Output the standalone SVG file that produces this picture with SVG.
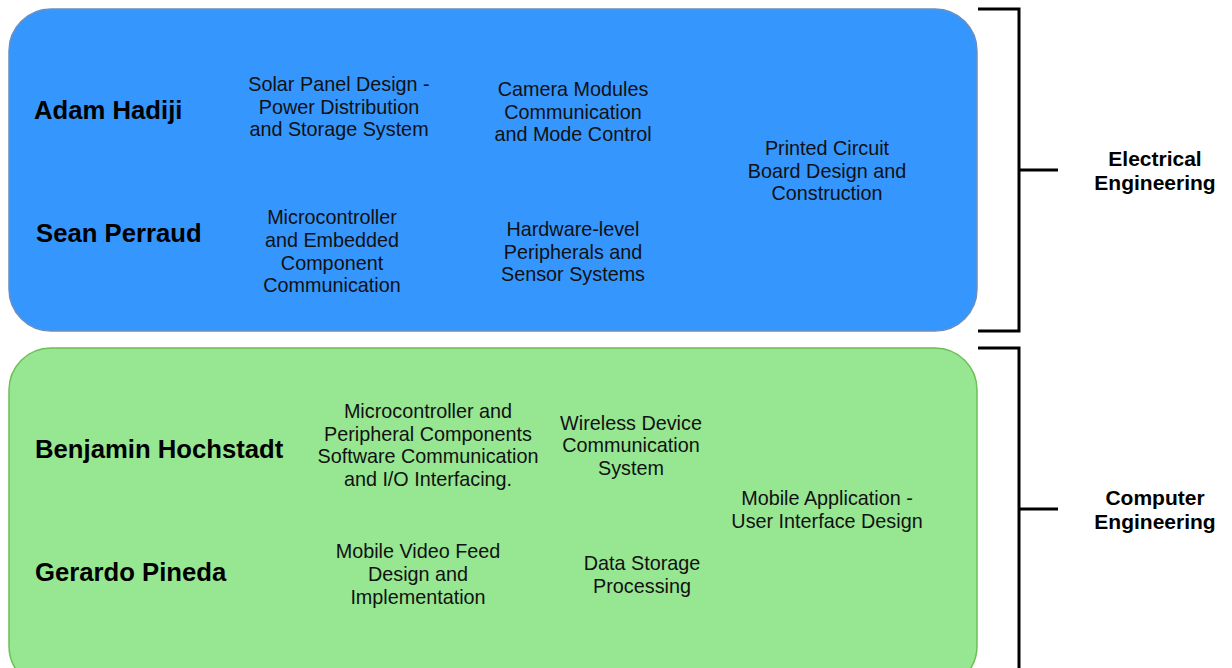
<svg xmlns="http://www.w3.org/2000/svg" width="1232" height="668" viewBox="0 0 1232 668">
<style>
.name{font-family:"Liberation Sans",Arial,sans-serif;font-weight:bold;font-size:25.7px;fill:#000}
.task{font-family:"Liberation Sans",Arial,sans-serif;font-size:19.8px;fill:#111;text-anchor:middle}
.lbl{font-family:"Liberation Sans",Arial,sans-serif;font-weight:bold;font-size:21px;fill:#000;text-anchor:middle}
.br{fill:none;stroke:#000;stroke-width:3}
</style>
<rect width="1232" height="668" fill="#fff"/>
<g id="ee">
<rect x="9" y="9" width="968" height="322" rx="42" ry="42" fill="#3596FE" stroke="#6C8EBF" stroke-width="1.5"/>
<text class="name" x="34" y="119">Adam Hadiji</text>
<text class="name" x="36" y="242">Sean Perraud</text>
<text class="task"><tspan x="339" y="91">Solar Panel Design -</tspan><tspan x="339" y="113.5">Power Distribution</tspan><tspan x="339" y="136">and Storage System</tspan></text>
<text class="task"><tspan x="573" y="96">Camera Modules</tspan><tspan x="573" y="118.5">Communication</tspan><tspan x="573" y="141">and Mode Control</tspan></text>
<text class="task"><tspan x="827" y="155">Printed Circuit</tspan><tspan x="827" y="177.5">Board Design and</tspan><tspan x="827" y="200">Construction</tspan></text>
<text class="task"><tspan x="332" y="224">Microcontroller</tspan><tspan x="332" y="247">and Embedded</tspan><tspan x="332" y="270">Component</tspan><tspan x="332" y="292">Communication</tspan></text>
<text class="task"><tspan x="573" y="236">Hardware-level</tspan><tspan x="573" y="259">Peripherals and</tspan><tspan x="573" y="281">Sensor Systems</tspan></text>
</g>
<g id="ce">
<rect x="9" y="348" width="968" height="340" rx="42" ry="42" fill="#97E691" stroke="#6CBF55" stroke-width="1.5"/>
<text class="name" x="35" y="458">Benjamin Hochstadt</text>
<text class="name" x="35" y="581">Gerardo Pineda</text>
<text class="task"><tspan x="428" y="418">Microcontroller and</tspan><tspan x="428" y="441">Peripheral Components</tspan><tspan x="428" y="463">Software Communication</tspan><tspan x="428" y="486">and I/O Interfacing.</tspan></text>
<text class="task"><tspan x="631" y="430">Wireless Device</tspan><tspan x="631" y="452">Communication</tspan><tspan x="631" y="475">System</tspan></text>
<text class="task"><tspan x="827" y="505">Mobile Application -</tspan><tspan x="827" y="528">User Interface Design</tspan></text>
<text class="task"><tspan x="418" y="558">Mobile Video Feed</tspan><tspan x="418" y="581">Design and</tspan><tspan x="418" y="604">Implementation</tspan></text>
<text class="task"><tspan x="642" y="570">Data Storage</tspan><tspan x="642" y="593">Processing</tspan></text>
</g>
<g id="connectors">
<path class="br" d="M978 9 H1019 V331 H978 M1019 170 H1058"/>
<path class="br" d="M978 348 H1019 V680 M1019 509 H1058"/>
</g>
<g id="labels">
<text class="lbl"><tspan x="1155" y="166">Electrical</tspan><tspan x="1155" y="190">Engineering</tspan></text>
<text class="lbl"><tspan x="1155" y="505">Computer</tspan><tspan x="1155" y="529">Engineering</tspan></text>
</g>
</svg>
